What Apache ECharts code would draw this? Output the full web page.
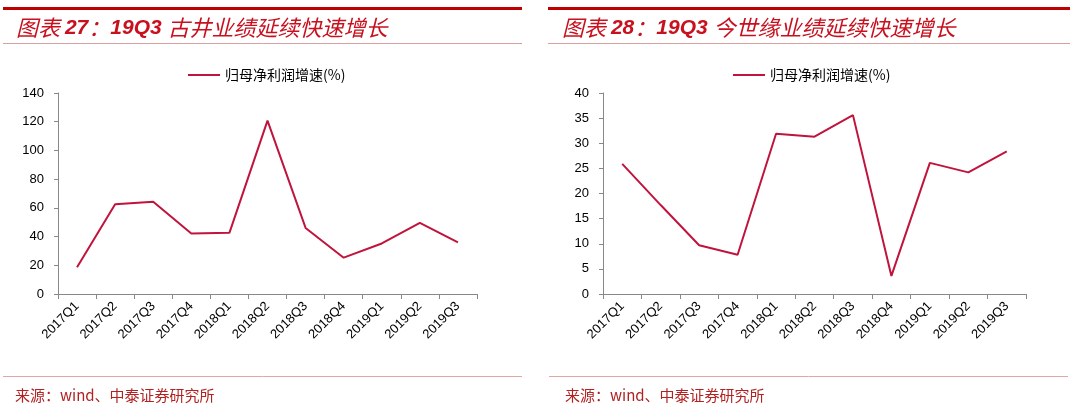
<!DOCTYPE html>
<html>
<head>
<meta charset="utf-8">
<script src="https://cdn.jsdelivr.net/npm/echarts@6/dist/echarts.min.js"></script>
<style>
html,body{margin:0;padding:0;background:#fff;}
#c{width:1074px;height:412px;}
</style>
</head>
<body>
<div id="c"></div>
<script>
const categories = ['2017Q1','2017Q2','2017Q3','2017Q4','2018Q1','2018Q2','2018Q3','2018Q4','2019Q1','2019Q2','2019Q3'];
const gujingGrowth = [18.6, 62.5, 64.3, 42.2, 42.6, 120.8, 46.0, 25.3, 35.2, 49.6, 36.0];
const jinshiyuanGrowth = [25.9, 17.7, 9.7, 7.8, 31.9, 31.3, 35.6, 3.6, 26.1, 24.2, 28.4];
const seriesName = '归母净利润增速(%)';
const leftTitleParts = ['图表 ', '27', '：', '19Q3 ', '古井业绩延续快速增长'];
const rightTitleParts = ['图表 ', '28', '：', '19Q3 ', '今世缘业绩延续快速增长'];
const sourceText = '来源：wind、中泰证券研究所';
const leftTicks = {min: 0, max: 140, interval: 20};
const rightTicks = {min: 0, max: 40, interval: 5};

const RED = '#C8101E';
const LINE = '#C0143C';
const chart = echarts.init(document.getElementById('c'), null, {renderer: 'canvas'});

function xAxis(gi) {
  return {
    type: 'category', gridIndex: gi, data: categories, boundaryGap: true,
    axisLine: {lineStyle: {color: '#888', width: 1}},
    axisTick: {show: true, alignWithLabel: false, length: 5, lineStyle: {color: '#888'}},
    axisLabel: {rotate: 45, fontSize: 13, color: '#000', fontFamily: 'Liberation Sans, Arial', margin: 10, interval: 0}
  };
}
function yAxis(gi, t) {
  return {
    type: 'value', gridIndex: gi, min: t.min, max: t.max, interval: t.interval,
    axisLine: {show: true, lineStyle: {color: '#888', width: 1}},
    axisTick: {show: true, length: 4, lineStyle: {color: '#888'}},
    splitLine: {show: false},
    axisLabel: {fontSize: 13, color: '#000', fontFamily: 'Liberation Sans, Arial', margin: 14}
  };
}
function hline(x1, x2, y, color, w) {
  return {type: 'line', shape: {x1: x1, y1: y, x2: x2, y2: y}, style: {stroke: color, lineWidth: w}, silent: true};
}
function titleText(x, y, parts) {
  return {
    type: 'text', x: x, y: y, silent: true,
    style: {
      text: '{c|' + parts[0] + '}{n|' + parts[1] + '}{c|' + parts[2] + '}{n|' + parts[3] + '}{c|' + parts[4] + '}',
      textVerticalAlign: 'middle',
      rich: {
        c: {fill: RED, fontSize: 22, fontStyle: 'italic', fontWeight: 'normal', fontFamily: '"Noto Sans CJK SC", sans-serif'},
        n: {fill: RED, fontSize: 21, fontStyle: 'italic', fontWeight: 'bold', fontFamily: '"Liberation Sans", sans-serif'}
      }
    }
  };
}
const srcStyle = {fill: '#B22222', font: '15px "Noto Sans CJK SC", "DejaVu Sans Mono", monospace', textVerticalAlign: 'middle'};
const legendText = {fontSize: 14, color: '#000', fontFamily: '"Noto Sans CJK SC", serif'};

chart.setOption({
  animation: false,
  legend: [
    {data: [seriesName], left: 183, top: 63, itemWidth: 32, itemHeight: 2, itemGap: 6, icon: 'rect', textStyle: legendText},
    {data: [seriesName], left: 728, top: 63, itemWidth: 32, itemHeight: 2, itemGap: 6, icon: 'rect', textStyle: legendText}
  ],
  grid: [
    {left: 58, top: 93, width: 419, height: 201, containLabel: false},
    {left: 603, top: 93, width: 423, height: 201, containLabel: false}
  ],
  xAxis: [xAxis(0), xAxis(1)],
  yAxis: [yAxis(0, leftTicks), yAxis(1, rightTicks)],
  series: [
    {name: seriesName, type: 'line', xAxisIndex: 0, yAxisIndex: 0, data: gujingGrowth,
     showSymbol: false, symbol: 'none', lineStyle: {color: LINE, width: 2}, itemStyle: {color: LINE}},
    {name: seriesName, type: 'line', xAxisIndex: 1, yAxisIndex: 1, data: jinshiyuanGrowth,
     showSymbol: false, symbol: 'none', lineStyle: {color: LINE, width: 2}, itemStyle: {color: LINE}}
  ],
  graphic: [
    hline(3, 522, 8.5, '#C00000', 3),
    hline(548, 1070, 8.5, '#C00000', 3),
    hline(3, 522, 43.5, '#D9A0A0', 1),
    hline(548, 1070, 43.5, '#D9A0A0', 1),
    hline(3, 522, 376.5, '#E0A8A0', 1),
    hline(549, 1068, 376.5, '#E0A8A0', 1),
    titleText(16, 28, leftTitleParts),
    titleText(562, 28, rightTitleParts),
    {type: 'text', x: 15, y: 395, silent: true, style: Object.assign({text: sourceText}, srcStyle)},
    {type: 'text', x: 565, y: 395, silent: true, style: Object.assign({text: sourceText}, srcStyle)}
  ]
});
</script>
</body>
</html>
